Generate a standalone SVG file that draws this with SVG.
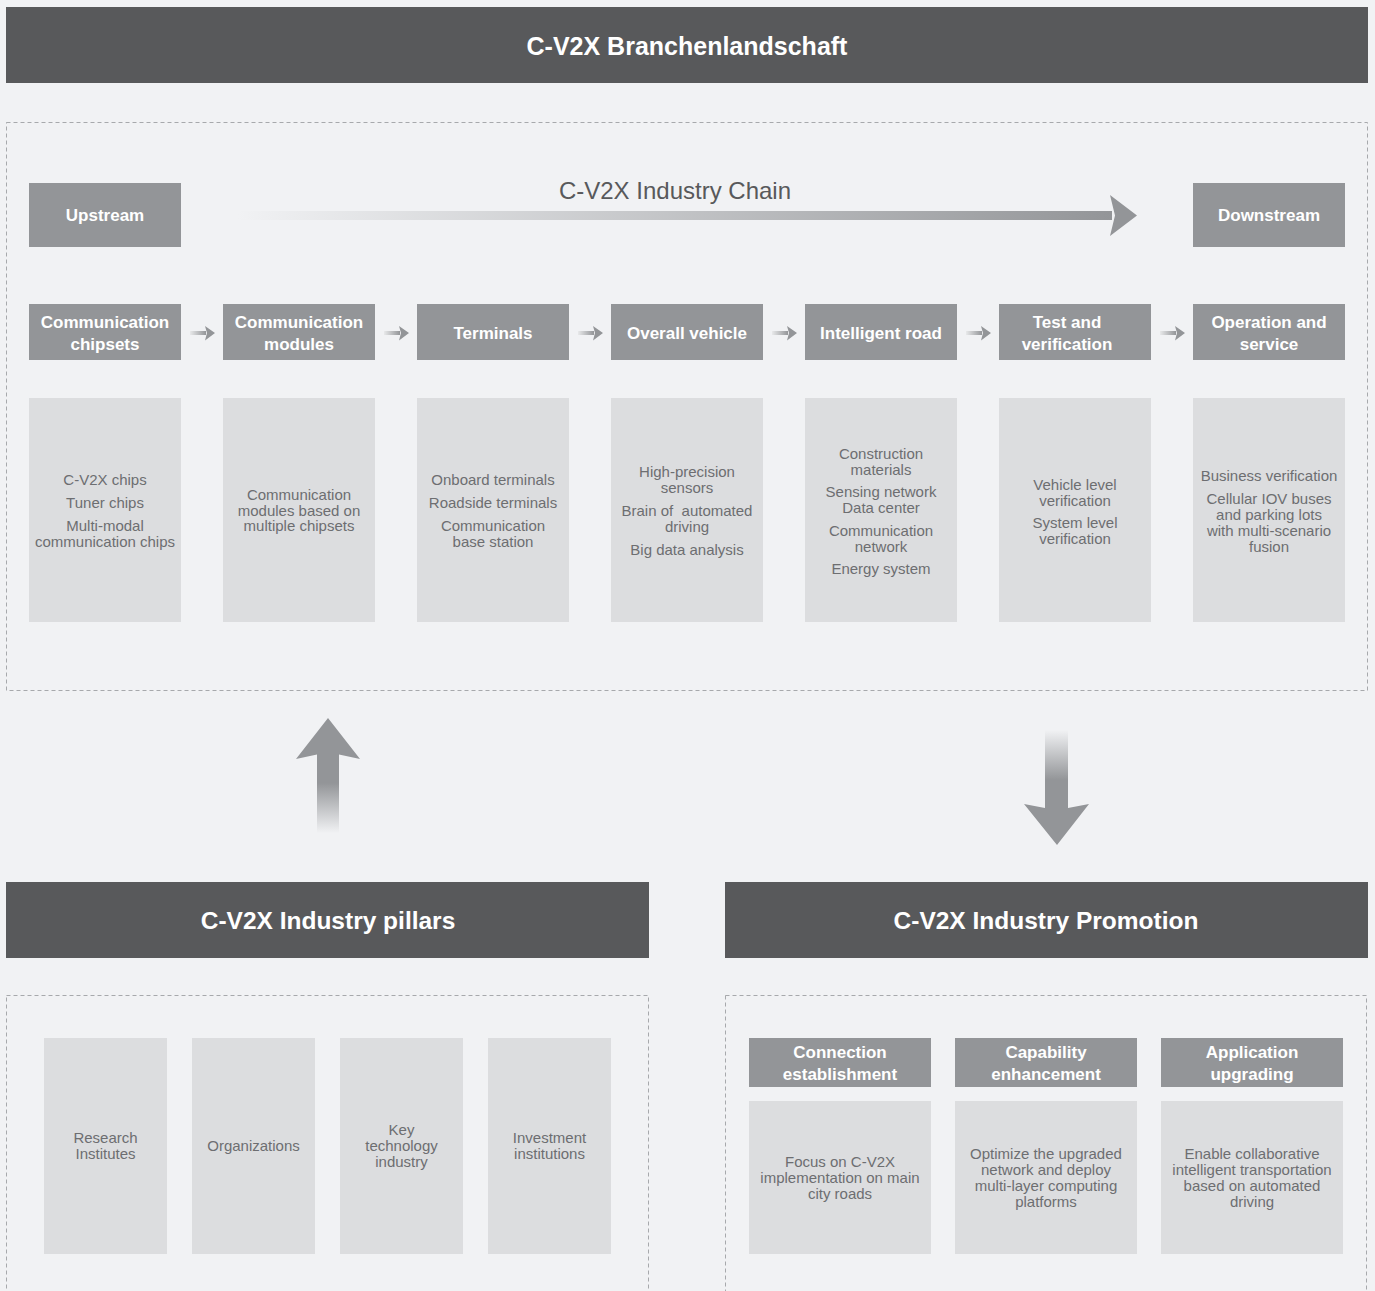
<svg xmlns="http://www.w3.org/2000/svg" width="1375" height="1291" viewBox="0 0 1375 1291">
  <style>
    .bar { fill: #58595b; }
    .hdr { fill: #939598; }
    .body { fill: #dcdddf; }
    .frame { fill: none; stroke: #a7a9ac; stroke-width: 1; stroke-dasharray: 4 3; }
    .ttl { font-family: "Liberation Sans", Arial, sans-serif; font-weight: bold; fill: #ffffff; text-anchor: middle; }
    .hd { font-family: "Liberation Sans", Arial, sans-serif; font-weight: bold; font-size: 17px; fill: #ffffff; text-anchor: middle; }
    .tx { font-family: "Liberation Sans", Arial, sans-serif; font-size: 15px; fill: #6d6e71; text-anchor: middle; }
    .chain { font-family: "Liberation Sans", Arial, sans-serif; font-size: 24px; fill: #58595b; text-anchor: middle; }
    .arrowFill { fill: #939598; }
  </style>
  <defs>
    <linearGradient id="chainGrad" gradientUnits="userSpaceOnUse" x1="237" y1="0" x2="1112" y2="0">
      <stop offset="0" stop-color="#f1f2f4"/>
      <stop offset="1" stop-color="#939598"/>
    </linearGradient>
    <linearGradient id="stepGrad" x1="0" y1="0" x2="1" y2="0">
      <stop offset="0" stop-color="#e8e9ea"/>
      <stop offset="1" stop-color="#939598"/>
    </linearGradient>
    <linearGradient id="upGrad" gradientUnits="userSpaceOnUse" x1="0" y1="833" x2="0" y2="783">
      <stop offset="0" stop-color="#f1f2f4"/>
      <stop offset="1" stop-color="#939598"/>
    </linearGradient>
    <linearGradient id="downGrad" gradientUnits="userSpaceOnUse" x1="0" y1="730" x2="0" y2="780">
      <stop offset="0" stop-color="#f1f2f4"/>
      <stop offset="1" stop-color="#939598"/>
    </linearGradient>
  </defs>

  <rect x="0" y="0" width="1375" height="1291" fill="#f1f2f4"/>

  <!-- main title -->
  <g id="title-landscape">
    <rect class="bar" x="6" y="7" width="1362" height="76"/>
    <text class="ttl" x="687" y="55" font-size="25">C-V2X Branchenlandschaft</text>
  </g>

  <!-- industry chain frame -->
  <rect class="frame" x="6.5" y="122.5" width="1361" height="568"/>

  <g id="upstream">
    <rect class="hdr" x="29" y="183" width="152" height="64"/>
    <text class="hd" x="105" y="221">Upstream</text>
  </g>
  <g id="downstream">
    <rect class="hdr" x="1193" y="183" width="152" height="64"/>
    <text class="hd" x="1269" y="221">Downstream</text>
  </g>
  <text class="chain" x="675" y="199">C-V2X Industry Chain</text>

  <!-- chain stage headers -->
  <g id="stage-chipsets">
    <rect class="hdr" x="29" y="304" width="152" height="56"/>
    <text class="hd" x="105" y="328">Communication</text>
    <text class="hd" x="105" y="350">chipsets</text>
  </g>
  <g id="stage-modules">
    <rect class="hdr" x="223" y="304" width="152" height="56"/>
    <text class="hd" x="299" y="328">Communication</text>
    <text class="hd" x="299" y="350">modules</text>
  </g>
  <g id="stage-terminals">
    <rect class="hdr" x="417" y="304" width="152" height="56"/>
    <text class="hd" x="493" y="339">Terminals</text>
  </g>
  <g id="stage-vehicle">
    <rect class="hdr" x="611" y="304" width="152" height="56"/>
    <text class="hd" x="687" y="339">Overall vehicle</text>
  </g>
  <g id="stage-road">
    <rect class="hdr" x="805" y="304" width="152" height="56"/>
    <text class="hd" x="881" y="339">Intelligent road</text>
  </g>
  <g id="stage-test">
    <rect class="hdr" x="999" y="304" width="152" height="56"/>
    <text class="hd" x="1067" y="328">Test and</text>
    <text class="hd" x="1067" y="350">verification</text>
  </g>
  <g id="stage-operation">
    <rect class="hdr" x="1193" y="304" width="152" height="56"/>
    <text class="hd" x="1269" y="328">Operation and</text>
    <text class="hd" x="1269" y="350">service</text>
  </g>

  <!-- chain stage details -->
  <g id="detail-chipsets">
    <rect class="body" x="29" y="398" width="152" height="224"/>
    <text class="tx" x="105" y="485">C-V2X chips</text>
    <text class="tx" x="105" y="508">Tuner chips</text>
    <text class="tx" x="105" y="531">Multi-modal</text>
    <text class="tx" x="105" y="547">communication chips</text>
  </g>
  <g id="detail-modules">
    <rect class="body" x="223" y="398" width="152" height="224"/>
    <text class="tx" x="299" y="500">Communication</text>
    <text class="tx" x="299" y="516">modules based on</text>
    <text class="tx" x="299" y="531">multiple chipsets</text>
  </g>
  <g id="detail-terminals">
    <rect class="body" x="417" y="398" width="152" height="224"/>
    <text class="tx" x="493" y="485">Onboard terminals</text>
    <text class="tx" x="493" y="508">Roadside terminals</text>
    <text class="tx" x="493" y="531">Communication</text>
    <text class="tx" x="493" y="547">base station</text>
  </g>
  <g id="detail-vehicle">
    <rect class="body" x="611" y="398" width="152" height="224"/>
    <text class="tx" x="687" y="477">High-precision</text>
    <text class="tx" x="687" y="493">sensors</text>
    <text class="tx" x="687" y="516">Brain of&#160; automated</text>
    <text class="tx" x="687" y="532">driving</text>
    <text class="tx" x="687" y="555">Big data analysis</text>
  </g>
  <g id="detail-road">
    <rect class="body" x="805" y="398" width="152" height="224"/>
    <text class="tx" x="881" y="459">Construction</text>
    <text class="tx" x="881" y="475">materials</text>
    <text class="tx" x="881" y="497">Sensing network</text>
    <text class="tx" x="881" y="513">Data center</text>
    <text class="tx" x="881" y="536">Communication</text>
    <text class="tx" x="881" y="552">network</text>
    <text class="tx" x="881" y="574">Energy system</text>
  </g>
  <g id="detail-test">
    <rect class="body" x="999" y="398" width="152" height="224"/>
    <text class="tx" x="1075" y="490">Vehicle level</text>
    <text class="tx" x="1075" y="506">verification</text>
    <text class="tx" x="1075" y="528">System level</text>
    <text class="tx" x="1075" y="544">verification</text>
  </g>
  <g id="detail-operation">
    <rect class="body" x="1193" y="398" width="152" height="224"/>
    <text class="tx" x="1269" y="481">Business verification</text>
    <text class="tx" x="1269" y="504">Cellular IOV buses</text>
    <text class="tx" x="1269" y="520">and parking lots</text>
    <text class="tx" x="1269" y="536">with multi-scenario</text>
    <text class="tx" x="1269" y="552">fusion</text>
  </g>

  <!-- connectors -->
  <g id="connectors">
    <!-- industry chain arrow -->
    <rect x="237" y="211" width="875" height="9" fill="url(#chainGrad)"/>
    <polygon class="arrowFill" points="1110,195 1137,215.5 1110,236 1115,215.5"/>
    <!-- stage to stage arrows -->
    <g>
      <rect x="190" y="331" width="16" height="4" fill="url(#stepGrad)"/>
      <polygon class="arrowFill" points="205,326 215,333 205,340.5 207,333"/>
      <rect x="384" y="331" width="16" height="4" fill="url(#stepGrad)"/>
      <polygon class="arrowFill" points="399,326 409,333 399,340.5 401,333"/>
      <rect x="578" y="331" width="16" height="4" fill="url(#stepGrad)"/>
      <polygon class="arrowFill" points="593,326 603,333 593,340.5 595,333"/>
      <rect x="772" y="331" width="16" height="4" fill="url(#stepGrad)"/>
      <polygon class="arrowFill" points="787,326 797,333 787,340.5 789,333"/>
      <rect x="966" y="331" width="16" height="4" fill="url(#stepGrad)"/>
      <polygon class="arrowFill" points="981,326 991,333 981,340.5 983,333"/>
      <rect x="1160" y="331" width="16" height="4" fill="url(#stepGrad)"/>
      <polygon class="arrowFill" points="1175,326 1185,333 1175,340.5 1177,333"/>
    </g>
    <!-- pillars up to chain -->
    <rect x="317" y="753" width="22" height="80" fill="url(#upGrad)"/>
    <polygon class="arrowFill" points="328,718 360,759 339,754.5 317,754.5 296,759"/>
    <!-- chain down to promotion -->
    <rect x="1045" y="730" width="23" height="79" fill="url(#downGrad)"/>
    <polygon class="arrowFill" points="1024,804 1045,808 1068,808 1089,804 1057,845"/>
  </g>

  <!-- pillars section -->
  <g id="title-pillars">
    <rect class="bar" x="6" y="882" width="643" height="76"/>
    <text class="ttl" x="328" y="929" font-size="24.5">C-V2X Industry pillars</text>
  </g>
  <rect class="frame" x="6.5" y="995.5" width="642" height="320"/>
  <g id="pillar-research">
    <rect class="body" x="44" y="1038" width="123" height="216"/>
    <text class="tx" x="105.5" y="1143">Research</text>
    <text class="tx" x="105.5" y="1159">Institutes</text>
  </g>
  <g id="pillar-organizations">
    <rect class="body" x="192" y="1038" width="123" height="216"/>
    <text class="tx" x="253.5" y="1151">Organizations</text>
  </g>
  <g id="pillar-key-tech">
    <rect class="body" x="340" y="1038" width="123" height="216"/>
    <text class="tx" x="401.5" y="1135">Key</text>
    <text class="tx" x="401.5" y="1151">technology</text>
    <text class="tx" x="401.5" y="1167">industry</text>
  </g>
  <g id="pillar-investment">
    <rect class="body" x="488" y="1038" width="123" height="216"/>
    <text class="tx" x="549.5" y="1143">Investment</text>
    <text class="tx" x="549.5" y="1159">institutions</text>
  </g>

  <!-- promotion section -->
  <g id="title-promotion">
    <rect class="bar" x="725" y="882" width="643" height="76"/>
    <text class="ttl" x="1046" y="929" font-size="24.5">C-V2X Industry Promotion</text>
  </g>
  <rect class="frame" x="725.5" y="995.5" width="641" height="320"/>
  <g id="promo-connection">
    <rect class="hdr" x="749" y="1038" width="182" height="49"/>
    <text class="hd" x="840" y="1058">Connection</text>
    <text class="hd" x="840" y="1080">establishment</text>
    <rect class="body" x="749" y="1101" width="182" height="153"/>
    <text class="tx" x="840" y="1167">Focus on C-V2X</text>
    <text class="tx" x="840" y="1183">implementation on main</text>
    <text class="tx" x="840" y="1199">city roads</text>
  </g>
  <g id="promo-capability">
    <rect class="hdr" x="955" y="1038" width="182" height="49"/>
    <text class="hd" x="1046" y="1058">Capability</text>
    <text class="hd" x="1046" y="1080">enhancement</text>
    <rect class="body" x="955" y="1101" width="182" height="153"/>
    <text class="tx" x="1046" y="1159">Optimize the upgraded</text>
    <text class="tx" x="1046" y="1175">network and deploy</text>
    <text class="tx" x="1046" y="1191">multi-layer computing</text>
    <text class="tx" x="1046" y="1207">platforms</text>
  </g>
  <g id="promo-application">
    <rect class="hdr" x="1161" y="1038" width="182" height="49"/>
    <text class="hd" x="1252" y="1058">Application</text>
    <text class="hd" x="1252" y="1080">upgrading</text>
    <rect class="body" x="1161" y="1101" width="182" height="153"/>
    <text class="tx" x="1252" y="1159">Enable collaborative</text>
    <text class="tx" x="1252" y="1175">intelligent transportation</text>
    <text class="tx" x="1252" y="1191">based on automated</text>
    <text class="tx" x="1252" y="1207">driving</text>
  </g>
</svg>
